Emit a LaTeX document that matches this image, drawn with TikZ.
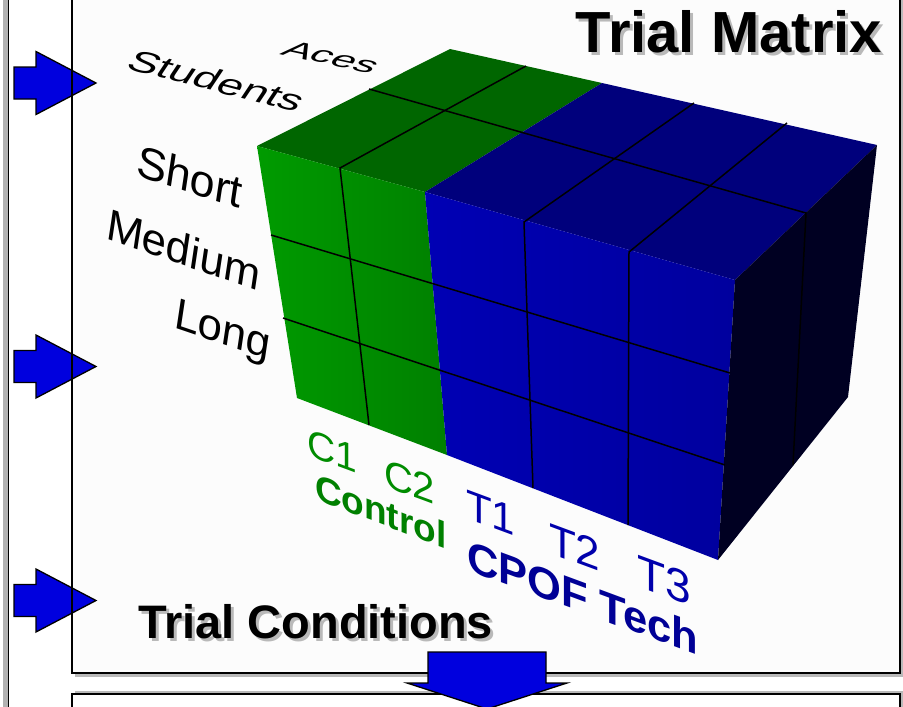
\documentclass[tikz,border=0pt]{standalone}
\usepackage{fontspec}
\setmainfont{Liberation Sans}

\definecolor{arrowblue}{RGB}{0,0,222}
\definecolor{panelfill}{RGB}{252,252,252}
\definecolor{frontgreenL}{RGB}{0,155,0}
\definecolor{frontgreenR}{RGB}{0,128,0}
\definecolor{topgreen}{RGB}{0,102,0}
\definecolor{frontblueL}{RGB}{0,0,180}
\definecolor{frontblueR}{RGB}{0,0,158}
\definecolor{topblue}{RGB}{0,0,124}
\definecolor{sideblue}{RGB}{0,0,34}
\definecolor{labelgreen}{RGB}{0,140,0}
\definecolor{ctrlgreen}{RGB}{0,128,0}
\definecolor{labelblue}{RGB}{0,0,172}
\definecolor{techblue}{RGB}{0,0,150}

\tikzset{
  txt/.style={inner sep=0pt, outer sep=0pt},
  fsz/.style={font=\fontsize{#1}{#1}\selectfont},
  fszb/.style={font=\fontsize{#1}{#1}\selectfont\bfseries},
  bluearrow/.style={fill=arrowblue, draw=black, line width=1.3pt, line join=miter},
  grid/.style={draw=black, line width=1.5pt},
  front/.style={cm={1,-#1,0.15,1,(0,0)}},
  colfront/.style={cm={1,-#1,0,1,(0,0)}},
}

\begin{document}
\begin{tikzpicture}[x=1pt,y=-1pt]
\useasboundingbox (0,0) rectangle (903,707);
\fill[white] (0,0) rectangle (903,707);

% left gray rail
\fill[gray!60] (2.5,-5) rectangle (8,712);
\draw[black, line width=1pt] (8.5,-5) -- (8.5,712);

% upper panel with drop shadow
\fill[gray!55] (75,-5) rectangle (903,676.5);
\fill[panelfill] (72,-5) rectangle (900,673);

% lower panel
\fill[gray!55] (75,691) rectangle (903,712);
\fill[white] (72,694) rectangle (900,712);

% ---- the matrix block ----
\coordinate (FTL) at (257,146);
\coordinate (FBL) at (297,398);
\coordinate (FTR) at (735,280);
\coordinate (FBR) at (718,560);
\coordinate (BL)  at (450,49);
\coordinate (BR)  at (877,145);
\coordinate (RBB) at (848,397);
\coordinate (GT)  at (425,192);
\coordinate (GB)  at (447,455);
\coordinate (GK)  at (602,83);

% faces
\fill[topgreen] (FTL) -- (BL) -- (GK) -- (GT) -- cycle;
\fill[topblue] (GT) -- (GK) -- (BR) -- (FTR) -- cycle;
\shade[left color=frontgreenL, right color=frontgreenR] (FTL) -- (GT) -- (GB) -- (FBL) -- cycle;
\shade[left color=frontblueL, right color=frontblueR] (GT) -- (FTR) -- (FBR) -- (GB) -- cycle;
\fill[sideblue] (FTR) -- (BR) -- (RBB) -- (FBR) -- cycle;

% grid lines: columns on front and top
\draw[grid] (526,66) -- (340,168) -- (369,425);
\draw[grid] (694,103) -- (524,222) -- (533,488);
\draw[grid] (787,123) -- (629,252) -- (628,525);
% depth divider on top and side
\draw[grid] (369,89) -- (806,213) -- (793,465);
% row dividers on front
\draw[grid] (271,235) -- (730,373);
\draw[grid] (283,318) -- (725,465);

% panel borders
\draw[black, line width=1.4pt] (72,-5) -- (72,673) -- (900,673) -- (900,-5);
\draw[black, line width=1.4pt] (72,712) -- (72,694) -- (900,694) -- (900,712);

% left arrows
\foreach \cy in {83, 366.5, 600.5}{
  \draw[bluearrow] (14,\cy-16) -- (36,\cy-16) -- (36,\cy-31.5) -- (96,\cy)
      -- (36,\cy+31.5) -- (36,\cy+16) -- (14,\cy+16) -- cycle;
}
\draw[black, line width=1.4pt] (72,-5) -- (72,673);

% axis labels
\node[txt, fsz=45, anchor=base west, cm={0.97,-0.25,0.4,0.6,(0,0)}] (students) at (124,68) {Students};
\node[txt, fsz=42, anchor=base west, cm={0.98,-0.21,0.45,0.48,(0,0)}] (aces) at (279,54) {Aces};

\node[txt, fsz=44, anchor=base west, front=0.32] (short) at (135,175) {Short};
\node[txt, fsz=43, anchor=base west, front=0.35] (medium) at (105,238) {Medium};
\node[txt, fsz=43, anchor=base west, front=0.34] (long) at (173,327) {Long};

\node[txt, fsz=39, anchor=base west, colfront=0.37, text=labelgreen] (c1) at (307,455) {C1};
\node[txt, fsz=40, anchor=base west, colfront=0.37, text=labelgreen] (c2) at (384,486) {C2};
\node[txt, fsz=42, anchor=base west, colfront=0.37, text=labelblue] (t1) at (466,518) {T1};
\node[txt, fsz=44, anchor=base west, colfront=0.37, text=labelblue] (t2) at (549,553) {T2};
\node[txt, fsz=46, anchor=base west, colfront=0.37, text=labelblue] (t3) at (637,586) {T3};

\node[txt, fszb=37, anchor=base west, colfront=0.38, text=ctrlgreen] (control) at (315,499) {Control};
\node[txt, fszb=43.5, anchor=base west, colfront=0.37, text=techblue] (cpof) at (467,570) {CPOF Tech};

% titles with drop shadow
\node[txt, fszb=58, anchor=base east, text=gray!55] (matrixshadow) at (885,55) {Trial Matrix};
\node[txt, fszb=58, anchor=base east] (matrix) at (882,52) {Trial Matrix};
\node[txt, fszb=47, anchor=base west, text=gray!55] (condshadow) at (141,641) {Trial Conditions};
\node[txt, fszb=47, anchor=base west] (cond) at (138,638) {Trial Conditions};

% down arrow between the panels
\draw[bluearrow] (428,652) -- (546,652) -- (546,683) -- (567,683) -- (487,709)
    -- (407,683) -- (428,683) -- cycle;
\end{tikzpicture}
\end{document}
